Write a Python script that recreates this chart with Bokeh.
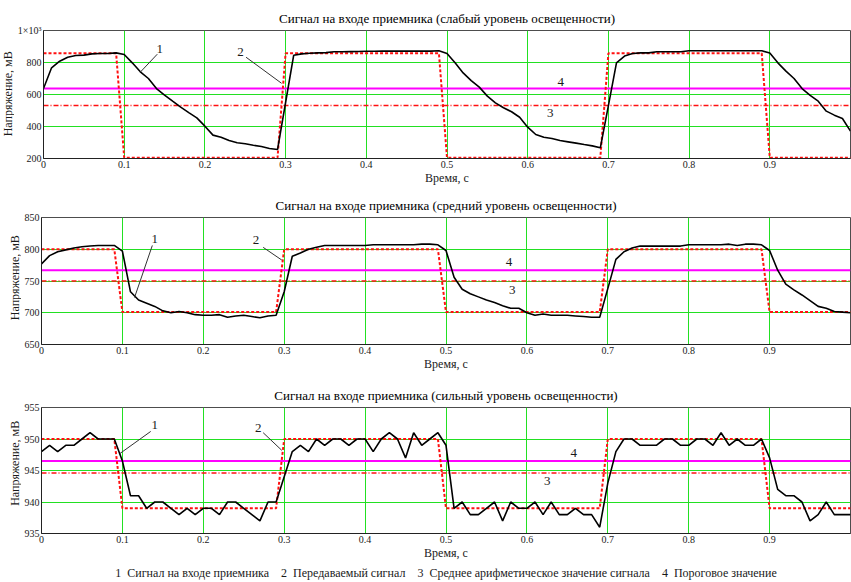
from bokeh.plotting import figure
from bokeh.models import FixedTicker, Range1d, Title
from bokeh.layouts import column, row
from bokeh.embed import file_html
from bokeh.resources import INLINE
from bokeh.core.properties import value
import math

# ---------------- data ----------------
TIME = [0.00, 0.01, 0.02, 0.03, 0.04, 0.05, 0.06, 0.07, 0.08, 0.09,
        0.10, 0.11, 0.12, 0.13, 0.14, 0.15, 0.16, 0.17, 0.18, 0.19,
        0.20, 0.21, 0.22, 0.23, 0.24, 0.25, 0.26, 0.27, 0.28, 0.29,
        0.30, 0.31, 0.32, 0.33, 0.34, 0.35, 0.36, 0.37, 0.38, 0.39,
        0.40, 0.41, 0.42, 0.43, 0.44, 0.45, 0.46, 0.47, 0.48, 0.49,
        0.50, 0.51, 0.52, 0.53, 0.54, 0.55, 0.56, 0.57, 0.58, 0.59,
        0.60, 0.61, 0.62, 0.63, 0.64, 0.65, 0.66, 0.67, 0.68, 0.69,
        0.70, 0.71, 0.72, 0.73, 0.74, 0.75, 0.76, 0.77, 0.78, 0.79,
        0.80, 0.81, 0.82, 0.83, 0.84, 0.85, 0.86, 0.87, 0.88, 0.89,
        0.90, 0.91, 0.92, 0.93, 0.94, 0.95, 0.96, 0.97, 0.98, 0.99, 1.00]

RECEIVED_WEAK = [637, 767, 808, 833, 844, 846, 854, 856, 856, 860,
                 850, 798, 742, 700, 637, 596, 558, 521, 487, 454,
                 402, 346, 333, 312, 298, 292, 283, 275, 262, 256,
                 550, 845, 854, 858, 860, 862, 867, 867, 868, 869,
                 870, 870, 871, 871, 871, 871, 871, 871, 871, 873,
                 856, 798, 735, 687, 646, 590, 548, 517, 492, 458,
                 396, 350, 333, 325, 312, 304, 296, 287, 279, 267,
                 530, 798, 840, 856, 860, 860, 867, 867, 867, 867,
                 873, 873, 873, 873, 873, 873, 873, 873, 873, 873,
                 860, 798, 746, 700, 637, 594, 558, 496, 471, 450, 371]

RECEIVED_MEDIUM = [777, 790, 796, 799, 802, 804, 805, 806, 806, 806,
                   797, 733, 720, 715, 710, 703, 700, 702, 700, 697,
                   696, 696, 697, 693, 695, 696, 694, 692, 695, 696,
                   733, 789, 794, 800, 803, 806, 806, 806, 806, 806,
                   806, 807, 807, 807, 807, 807, 807, 808, 808, 807,
                   798, 756, 737, 730, 725, 720, 716, 711, 707, 707,
                   700, 696, 698, 696, 696, 696, 695, 694, 693, 693,
                   738, 784, 796, 802, 805, 805, 805, 805, 805, 805,
                   807, 807, 807, 807, 807, 808, 806, 808, 808, 807,
                   798, 767, 745, 736, 728, 719, 710, 707, 702, 701, 700]

RECEIVED_STRONG = [948, 949, 948, 949, 949, 950, 951, 950, 950, 950,
                   946.5, 941, 941, 939, 940, 940, 939, 938, 939, 938,
                   939, 939, 938, 940, 940, 939, 938, 937, 940, 940,
                   944, 948, 949, 948, 950, 949, 950, 950, 949, 950,
                   950, 948, 950, 951, 950, 947, 951, 949, 950, 951,
                   949, 939, 940, 938, 938, 939, 940, 937, 940, 939,
                   939, 940, 938, 940, 938, 938, 939, 938, 938, 936,
                   943, 948, 950, 950, 949, 949, 949, 950, 950, 949,
                   949, 950, 950, 949, 951, 949, 950, 949, 949, 950,
                   947, 942, 941, 941, 940, 937, 938, 940, 938, 938, 938]

TX_TIME = [0.0, 0.09, 0.10, 0.29, 0.30, 0.49, 0.50, 0.69, 0.70, 0.89, 0.90, 1.0]
TX_STATE = [1, 1, 0, 0, 1, 1, 0, 0, 1, 1, 0, 0]

TX_HIGH = [858, 800, 950]
TX_LOW = [205, 701, 939]
MEAN_LEVEL = [531, 750, 944.6]
THRESHOLD = [638, 767, 946.5]

TITLES = ["Сигнал на входе приемника (слабый уровень освещенности)",
          "Сигнал на входе приемника (средний уровень освещенности)",
          "Сигнал на входе приемника (сильный уровень освещенности)"]
Y_RANGES = [(200, 1000), (650, 850), (935, 955)]
Y_TICKS = [[200, 400, 600, 800, 1000], [650, 700, 750, 800, 850], [935, 940, 945, 950, 955]]
X_TICKS = [0, 0.1, 0.2, 0.3, 0.4, 0.5, 0.6, 0.7, 0.8, 0.9]
X_LABEL = "Время, с"
Y_LABEL = "Напряжение, мВ"
LEGEND_TEXT = ("1\u2002Сигнал на входе приемника\u20032\u2002Передаваемый сигнал"
               "\u20033\u2002Среднее арифметическое значение сигнала\u20034\u2002Пороговое значение")

# annotation numbers (x, y) and leader segments (x0, y0, x1, y1) per panel
NUM_TEXT = [["1", "2", "4", "3"], ["1", "2", "4", "3"], ["1", "2", "4", "3"]]
NUM_X = [[0.144, 0.244, 0.641, 0.628], [0.140, 0.265, 0.578, 0.582], [0.140, 0.268, 0.658, 0.625]]
NUM_Y = [[883, 864, 677, 483], [815.6, 815, 780, 736], [952.2, 951.8, 947.7, 943.3]]
LEAD_X0 = [[0.141, 0.251], [0.137, 0.274], [0.135, 0.274]]
LEAD_Y0 = [[852, 833], [806, 803], [951.2, 951.0]]
LEAD_X1 = [[0.120, 0.295], [0.115, 0.297], [0.097, 0.297]]
LEAD_Y1 = [[740, 670], [724, 783], [947.7, 948.2]]

# ---------------- styling ----------------
SERIF = "'Liberation Serif', 'Times New Roman', serif"
GRID = "#22e022"
FRAME = "#4d4d4d"
W = 851
FRAME_LEFT = 40
LABEL_W = [14, 21, 21]          # width of the strip that carries the y-axis title
LABEL_CX = [7.5, 14, 14]        # horizontal centre of that title inside the strip
TOPS = [30, 26, 25]
BOTTOMS = [32, 36, 48]
FRAME_H = 128


def make_label_strip(i, h):
    s = figure(width=LABEL_W[i], height=h, output_backend="svg", toolbar_location=None,
               x_range=Range1d(0, LABEL_W[i]), y_range=Range1d(0, h),
               min_border_left=0, min_border_right=0, min_border_top=0, min_border_bottom=0,
               background_fill_color="white", border_fill_color="white")
    s.axis.visible = False
    s.grid.visible = False
    s.outline_line_color = None
    s.text([LABEL_CX[i]], [BOTTOMS[i] + FRAME_H / 2], text=[Y_LABEL], angle=math.pi / 2,
           text_font=value(SERIF), text_font_size="12px", text_align="center",
           text_baseline="middle", text_color="#1a1a1a")
    return s


def make_panel(i):
    h = TOPS[i] + FRAME_H + BOTTOMS[i]
    p = figure(width=W - LABEL_W[i], height=h, output_backend="svg", toolbar_location=None,
               x_range=Range1d(0, 1.0), y_range=Range1d(*Y_RANGES[i]),
               min_border_left=FRAME_LEFT - LABEL_W[i], min_border_right=1,
               min_border_top=TOPS[i], min_border_bottom=BOTTOMS[i],
               background_fill_color="white", border_fill_color="white")
    p.title = Title(text=TITLES[i], align="center", text_font=SERIF,
                    text_font_size="13px", text_font_style="normal",
                    text_color="#000000", standoff=10)
    p.outline_line_color = FRAME
    p.outline_line_width = 1

    p.xaxis.ticker = FixedTicker(ticks=X_TICKS)
    p.yaxis.ticker = FixedTicker(ticks=Y_TICKS[i])
    if i == 0:
        p.yaxis.major_label_overrides = {1000: "1×10³"}
    for ax in (p.xaxis, p.yaxis):
        ax.major_tick_out = 0
        ax.major_tick_in = 0
        ax.minor_tick_out = 0
        ax.minor_tick_in = 0
        ax.axis_line_color = "#222222"
        ax.major_label_text_font = SERIF
        ax.major_label_text_font_size = "10px"
        ax.major_label_text_color = "#1a1a1a"
        ax.axis_label_text_font = SERIF
        ax.axis_label_text_font_size = "12px"
        ax.axis_label_text_font_style = "normal"
        ax.axis_label_text_color = "#1a1a1a"
    p.xaxis.axis_label = X_LABEL
    p.xaxis.major_label_standoff = 2
    p.xaxis.axis_label_standoff = 0
    p.yaxis.major_label_standoff = 2

    p.xgrid.ticker = FixedTicker(ticks=X_TICKS[1:])
    p.ygrid.ticker = FixedTicker(ticks=Y_TICKS[i][1:-1])
    for g in (p.xgrid, p.ygrid):
        g.grid_line_color = GRID
        g.grid_line_width = 1

    tx = [TX_HIGH[i] if s else TX_LOW[i] for s in TX_STATE]
    p.line([0, 1.0], [MEAN_LEVEL[i], MEAN_LEVEL[i]], color="#ff1010",
           line_width=1.5, line_dash="5 2 1 2")
    p.line([0, 1.0], [THRESHOLD[i], THRESHOLD[i]], color="#ff00ff", line_width=2)
    p.line(TX_TIME, tx, color="#ff1010", line_width=2, line_dash="3 2")
    received = [RECEIVED_WEAK, RECEIVED_MEDIUM, RECEIVED_STRONG][i]
    p.line(TIME, received, color="black", line_width=1.6)

    p.segment(LEAD_X0[i], LEAD_Y0[i], LEAD_X1[i], LEAD_Y1[i], color="#333333", line_width=1)
    p.text(NUM_X[i], NUM_Y[i], text=NUM_TEXT[i], text_font=value(SERIF),
           text_font_size="13px", text_align="center", text_baseline="middle",
           text_color="#1a1a1a")

    if i == 2:
        p.add_layout(Title(text=LEGEND_TEXT, align="center", text_font=SERIF,
                           text_font_size="12px", text_font_style="normal",
                           text_color="#1a1a1a", standoff=2), "below")
    return row(make_label_strip(i, h), p, spacing=0)


rows = [make_panel(i) for i in range(3)]
layout = column(*rows, spacing=0)

with open("out.html", "w") as f:
    f.write(file_html(layout, INLINE))
